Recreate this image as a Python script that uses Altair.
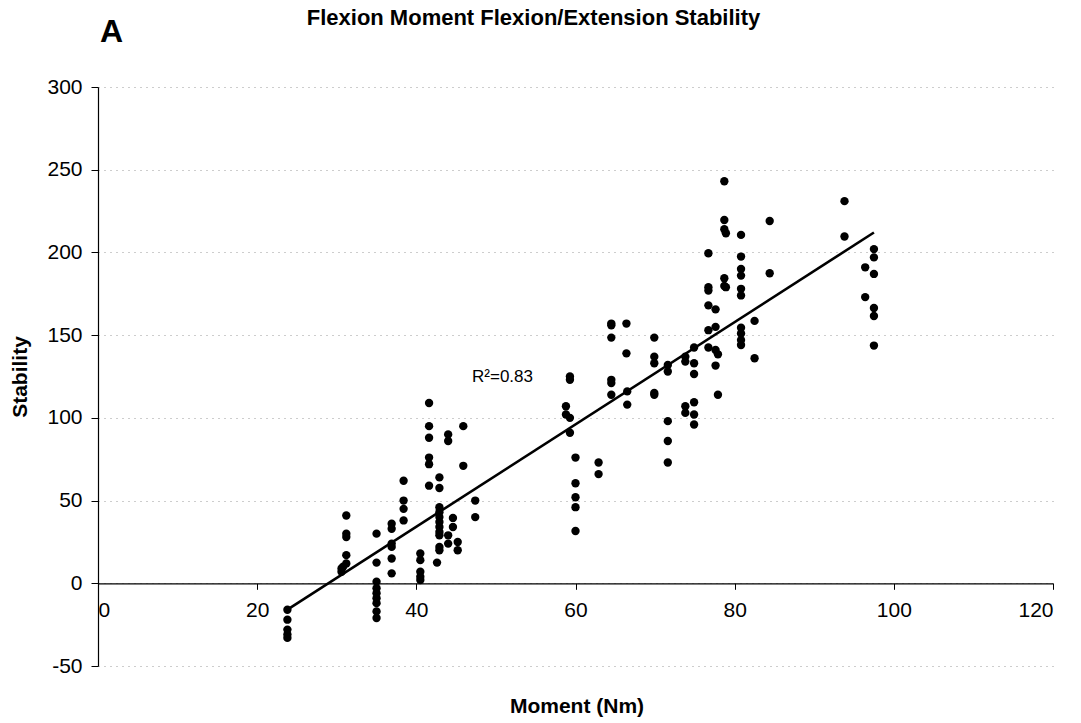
import altair as alt
import pandas as pd

# ---- data ----
moment = (
    [23.8] * 5
    + [30.6, 30.6, 30.8, 31.2, 31.2, 31.2, 31.2, 31.2]
    + [35.0] * 9
    + [36.9] * 6
    + [38.4] * 4
    + [40.5] * 5
    + [41.6] * 6
    + [42.9] * 11 + [42.6]
    + [44.0] * 4
    + [44.6] * 2
    + [45.2] * 2
    + [45.9] * 2
    + [47.4] * 2
    + [59.3, 59.3, 59.3, 58.8, 58.8, 59.3]
    + [60.0] * 5
    + [62.9] * 2
    + [64.5] * 6
    + [66.4, 66.4, 66.5, 66.5]
    + [69.9] * 5
    + [71.6] * 5
    + [73.8] * 4
    + [74.9] * 6
    + [76.7] * 6
    + [77.6] * 4
    + [77.9] * 2
    + [78.7] * 5 + [78.9] * 2
    + [80.8] * 10
    + [82.5] * 2
    + [84.4] * 2
    + [93.8] * 2
    + [96.4] * 2
    + [97.5] * 6
)
stability = (
    [-16, -22, -28, -31, -33]
    + [7, 9, 10, 12, 17, 28, 30, 41]
    + [30, 12.5, 1, -3, -6, -9, -12, -17, -21]
    + [36, 33, 24, 22, 15, 6]
    + [62, 50, 45, 38]
    + [18, 14, 7, 4, 2]
    + [109, 95, 88, 76, 72, 59]
    + [64, 57.6, 46, 43, 40, 37, 34, 31, 29, 22, 20, 12.5]
    + [90, 86, 29, 24]
    + [39.5, 34]
    + [25, 20]
    + [95, 71]
    + [50, 40]
    + [125, 123, 91, 107, 102, 100]
    + [76, 60.5, 52, 46, 31.6]
    + [73, 66]
    + [157, 156, 148.5, 123, 121, 114]
    + [157, 139, 116, 108]
    + [148.5, 137, 133, 115, 114]
    + [132, 128, 98, 86, 73]
    + [137, 134, 107, 103]
    + [142.5, 133, 126.5, 109.4, 102, 96]
    + [199.5, 179, 177, 168, 153, 142.5]
    + [165.6, 155, 141, 131.6]
    + [138.4, 114]
    + [243, 219.6, 214, 184.4, 179.7, 211.6, 179]
    + [210.6, 197.5, 190, 186, 178, 174, 154.5, 151, 147, 144]
    + [158.6, 136]
    + [219, 187.4]
    + [231, 209.6]
    + [191, 173]
    + [202, 197, 187, 166.4, 161.6, 143.7]
)
x_ticks = [0, 20, 40, 60, 80, 100, 120]
y_ticks = [-50, 0, 50, 100, 150, 200, 250, 300]

df = pd.DataFrame({"moment": moment, "stability": stability})
one = pd.DataFrame({"k": [0]})

FONT = "Liberation Sans"
W, H = 955, 579

xs = alt.Scale(domain=[0, 120], nice=False, zero=False)
ys = alt.Scale(domain=[-50, 300], nice=False, zero=False)

x_axis = alt.Axis(
    values=x_ticks, title=None, grid=False, offset=-82.7,
    domainColor="black", domainWidth=1.2, tickColor="black", tickSize=6,
    labelFont=FONT, labelFontSize=21, labelColor="black", labelPadding=10,
    labelExpr="'' + datum.value",
)
y_axis = alt.Axis(
    values=y_ticks, title=None, grid=True, gridColor="#9a9a9a",
    gridDash=[1, 5], gridWidth=1,
    domainColor="black", domainWidth=1.2, tickColor="black", tickSize=7,
    labelFont=FONT, labelFontSize=21, labelColor="black", labelPadding=9,
    labelExpr="'' + datum.value",
)

base = alt.Chart(df)

points = base.mark_circle(size=70, color="black", opacity=1).encode(
    x=alt.X("moment:Q", scale=xs, axis=x_axis),
    y=alt.Y("stability:Q", scale=ys, axis=y_axis),
)

fit = base.transform_regression("moment", "stability").mark_line(
    color="black", strokeWidth=2.6
).encode(
    x=alt.X("moment:Q", scale=xs),
    y=alt.Y("stability:Q", scale=ys),
)

r2 = alt.Chart(pd.DataFrame({"mx": [47.0], "sy": [124.7], "t": ["R²=0.83"]})).mark_text(
    font=FONT, fontSize=17, align="left", baseline="middle", color="black"
).encode(x=alt.X("mx:Q", scale=xs), y=alt.Y("sy:Q", scale=ys), text="t:N")

title = alt.Chart(one).mark_text(
    text="Flexion Moment Flexion/Extension Stability", font=FONT, fontSize=22,
    fontWeight="bold", align="center", baseline="alphabetic", color="black"
).encode(x=alt.value(435.5), y=alt.value(-62))

panel = alt.Chart(one).mark_text(
    text="A", font=FONT, fontSize=32, fontWeight="bold", align="left",
    baseline="alphabetic", color="black"
).encode(x=alt.value(2), y=alt.value(-45))

xtitle = alt.Chart(one).mark_text(
    text="Moment (Nm)", font=FONT, fontSize=21, fontWeight="bold",
    align="center", baseline="alphabetic", color="black"
).encode(x=alt.value(479), y=alt.value(626))

ytitle = alt.Chart(one).mark_text(
    text="Stability", font=FONT, fontSize=21, fontWeight="bold", angle=270,
    align="center", baseline="middle", color="black"
).encode(x=alt.value(-77), y=alt.value(290))

chart = alt.layer(points, fit, r2, title, panel, xtitle, ytitle).properties(
    width=W, height=H, autosize="none",
    padding={"left": 98, "top": 87, "right": 28, "bottom": 57},
    background="white",
).configure_view(stroke="transparent")

chart.save("out.html", embed_options={"renderer": "svg", "actions": False})
